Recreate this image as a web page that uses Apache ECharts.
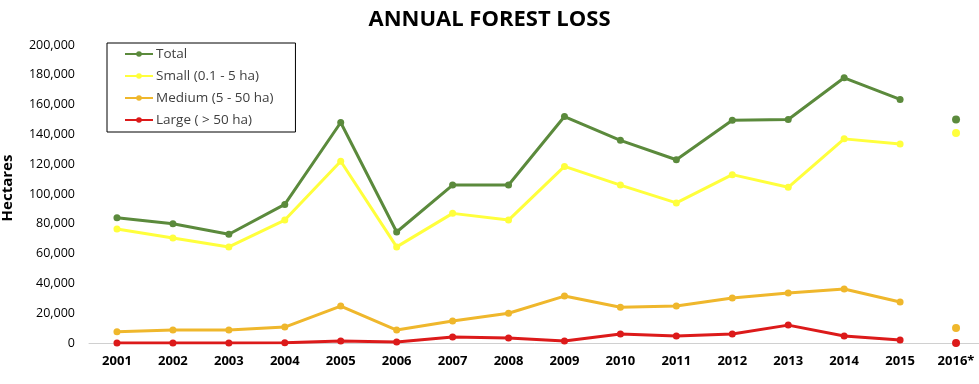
<!DOCTYPE html>
<html><head><meta charset="utf-8">
<script src="https://cdn.jsdelivr.net/npm/echarts@6/dist/echarts.min.js"></script>
<style>html,body{margin:0;padding:0;background:#fff}#c{width:979px;height:384px}</style>
</head><body><div id="c"></div>
<script>
const categories = ['2001','2002','2003','2004','2005','2006','2007','2008','2009','2010','2011','2012','2013','2014','2015','2016*'];
const totalLoss  = [84000, 80000, 73000, 93000, 148000, 74500, 106000, 106000, 152000, 136000, 123000, 149500, 150000, 178000, 163500, 150000];
const smallLoss  = [76500, 70500, 64500, 82500, 122000, 64500, 87000, 82500, 118500, 106000, 94000, 113000, 104500, 137000, 133500, 141000];
const mediumLoss = [7500, 8700, 8700, 10700, 24800, 8700, 14800, 20000, 31500, 24000, 24800, 30200, 33600, 36200, 27500, 10000];
const largeLoss  = [0, 0, 0, 200, 1300, 700, 4000, 3400, 1300, 6000, 4700, 6000, 12000, 4700, 2000, 0];
const seriesNames = ['Total', 'Small (0.1 - 5 ha)', 'Medium (5 - 50 ha)', 'Large ( > 50 ha)'];
const seriesColors = ['#5b8a3c', '#ffff3c', '#efb72c', '#dc1a1a'];
const yTicks = {min: 0, max: 200000, interval: 20000};

const allData = [totalLoss, smallLoss, mediumLoss, largeLoss];
const series = [];
allData.forEach((arr, k) => {
  series.push({
    name: seriesNames[k], type: 'line', data: arr.slice(0, 15),
    symbol: 'circle', symbolSize: 7, color: seriesColors[k],
    lineStyle: {width: 3, color: seriesColors[k]},
    itemStyle: {color: seriesColors[k]}, z: 10 - k
  });
  series.push({
    name: seriesNames[k] + ' 2016', type: 'scatter',
    data: arr.map((v, i) => i === 15 ? v : '-'),
    symbol: 'circle', symbolSize: 8, itemStyle: {color: seriesColors[k], opacity: 1}, z: 10 - k
  });
});

const chart = echarts.init(document.getElementById('c'), null, {renderer: 'canvas'});
chart.setOption({
  animation: false,
  textStyle: {fontFamily: 'Open Sans'},
  title: {text: 'ANNUAL FOREST LOSS', left: 'center', top: 4,
    textStyle: {fontFamily: 'Open Sans', fontWeight: 'bold', fontSize: 22, color: '#000'}},
  grid: {left: 89, right: -5, top: 45, bottom: 41, outerBoundsMode: 'none', containLabel: false},
  legend: {
    data: seriesNames, orient: 'vertical', left: 107, top: 43,
    padding: [4, 22, 5, 17], itemGap: 8, itemWidth: 28, itemHeight: 7,
    borderColor: '#000', borderWidth: 1, backgroundColor: '#fff',
    textStyle: {fontSize: 13.5, color: '#404040', lineHeight: 14, padding: [0, 0, 0, -2]}
  },
  xAxis: {
    type: 'category', data: categories, boundaryGap: true,
    axisLine: {show: true, lineStyle: {color: '#d0d0d0'}},
    axisTick: {show: false},
    axisLabel: {fontWeight: 'bold', fontSize: 13, color: '#000', margin: 12}
  },
  yAxis: {
    type: 'value', min: yTicks.min, max: yTicks.max, interval: yTicks.interval,
    name: 'Hectares', nameLocation: 'middle', nameGap: 74, nameRotate: 90,
    nameTextStyle: {fontWeight: 'bold', fontSize: 15, color: '#000', padding: [0, 0, 0, 12]},
    splitLine: {show: false}, axisLine: {show: false}, axisTick: {show: false},
    axisLabel: {fontSize: 12.5, color: '#000', margin: 14,
      formatter: v => v.toLocaleString('en-US')}
  },
  series: series
});
</script></body></html>
